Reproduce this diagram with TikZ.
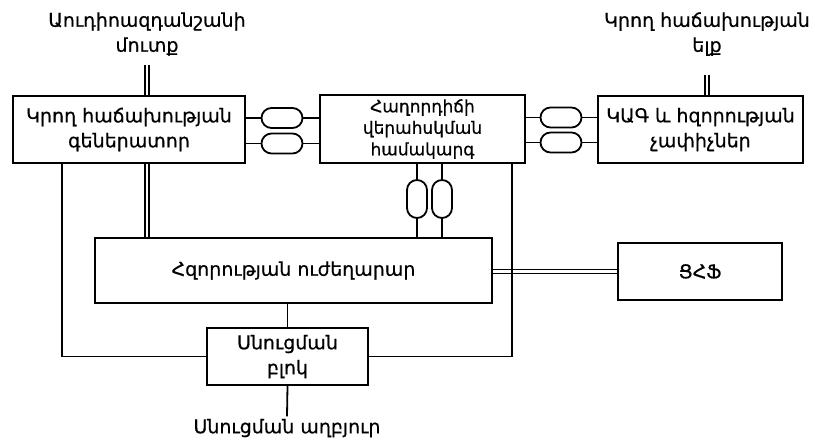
\documentclass[tikz,border=0pt]{standalone}
\usepackage{fontspec}
\setmainfont{DejaVu Sans}[FakeBold=0.6]
\usepackage{tikz}
\usetikzlibrary{shapes.misc, positioning}
\tikzset{
  block/.style={
    rectangle, draw, line width=2pt,
    align=center, inner sep=1pt,
    font=\fontsize{19}{25}\selectfont
  },
  loopbox/.style={
    rounded rectangle, draw, line width=1.8pt,
    inner sep=0pt
  },
  hloop/.style={loopbox, minimum width=41pt, minimum height=20pt},
  vloop/.style={loopbox, rounded rectangle arc length=180, rotate=90,
    minimum width=38pt, minimum height=20pt},
  label/.style={align=center, font=\fontsize{19}{25}\selectfont},
  wire/.style={line width=1.8pt},
  dwire/.style={double, line width=1.4pt, double distance=2.4pt},
}

\begin{document}
\begin{tikzpicture}[x=1pt, y=-1pt]
  \useasboundingbox (0,0) rectangle (815,440);

  % Nodes
  \node[block, minimum width=232pt, minimum height=67pt] (gen)   at (129,129.5) {Կրող  հաճախության\\գեներատոր};
  \node[block, minimum width=205pt, minimum height=68pt,
        font=\fontsize{17}{21.5}\selectfont]              (ctrl)  at (422.5,129) {Հաղորդիճի\\վերահսկման\\համակարգ};
  \node[block, minimum width=205pt, minimum height=67pt] (meter) at (700.5,129.5) {ԿԱԳ  և  հզորության\\չափիչներ};
  \node[block, minimum width=397pt, minimum height=65pt] (amp)   at (293.5,270.5) {Հզորության  ուժեղարար};
  \node[block, minimum width=164pt, minimum height=57pt] (lpf)   at (700,271.5) {ՑՀՖ};
  \node[block, minimum width=161pt, minimum height=57pt] (psu)   at (287.5,356.5) {Սնուցման\\բլոկ};

  \node[label] (inlbl)  at (147,34)  {Աուդիոազդանշանի\\մուտք};
  \node[label] (outlbl) at (707,34)  {Կրող  հաճախության\\ելք};
  \node[label] (srclbl) at (287,428) {Սնուցման  աղբյուր};

  % Loops
  \node[hloop] (l1) at (282,118)   {};
  \node[hloop] (l2) at (282,143.5) {};
  \node[hloop] (l3) at (561,117.5) {};
  \node[hloop] (l4) at (561,142.5) {};
  \node[vloop] (l5) at (417,199)   {};
  \node[vloop] (l6) at (442,199)   {};

  % Connections
  \foreach \l in {l1, l2}{
    \draw[wire] (\l.west) -- (\l.west -| gen.east);
    \draw[wire] (\l.east) -- (\l.east -| ctrl.west);
  }
  \foreach \l in {l3, l4}{
    \draw[wire] (\l.west) -- (\l.west -| ctrl.east);
    \draw[wire] (\l.east) -- (\l.east -| meter.west);
  }
  \foreach \l in {l5, l6}{
    \draw[wire] (\l.east) -- (\l.east |- ctrl.south);
    \draw[wire] (\l.west) -- (\l.west |- amp.north);
  }

  \draw[dwire] ([yshift=-6pt]inlbl.south) -- (inlbl.south |- gen.north);
  \draw[dwire] ([yshift=-16pt]outlbl.south) -- (outlbl.south |- meter.north);
  \draw[dwire] ([xshift=18pt]gen.south) -- ([xshift=18pt]gen.south |- amp.north);
  \draw[dwire] (amp.east |- lpf.west) -- (lpf.west);

  \draw[wire] ([xshift=-67pt]gen.south) |- (psu.west);
  \draw[wire] ([xshift=89.5pt]ctrl.south) |- (psu.east);
  \draw[wire] (psu.north) -- (psu.north |- amp.south);
  \draw[wire] (psu.south) -- ([yshift=-1pt]srclbl.north);

\end{tikzpicture}
\end{document}
